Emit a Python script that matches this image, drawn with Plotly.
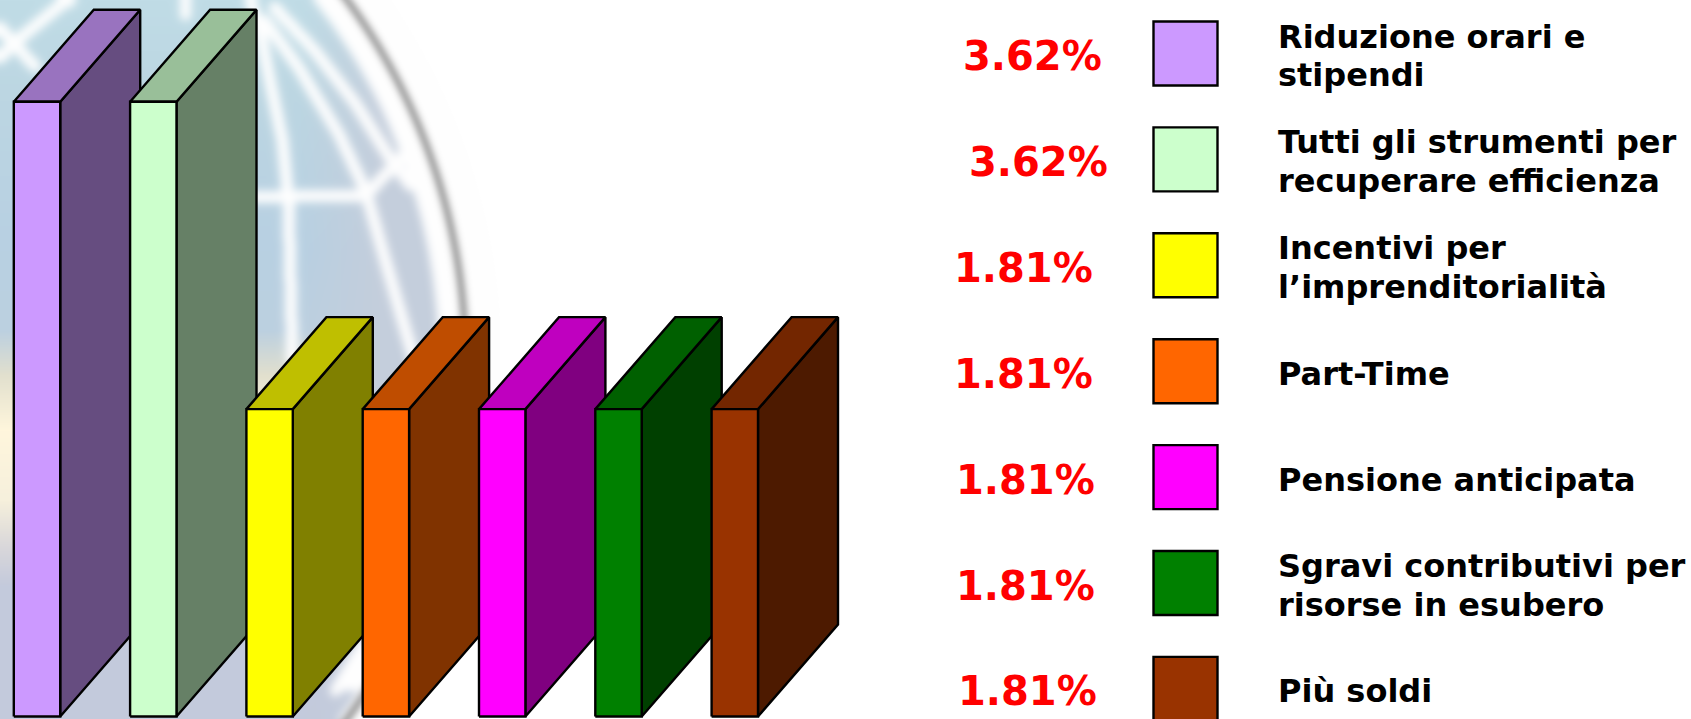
import base64, struct, zlib
import numpy as np
import plotly.graph_objects as go

# ---- data ----
categories = ["Riduzione orari e<br>stipendi", "Tutti gli strumenti per<br>recuperare efficienza",
              "Incentivi per<br>l’imprenditorialità", "Part-Time", "Pensione anticipata",
              "Sgravi contributivi per<br>risorse in esubero", "Più soldi"]
values = [3.62, 3.62, 1.81, 1.81, 1.81, 1.81, 1.81]
value_labels = ["3.62%", "3.62%", "1.81%", "1.81%", "1.81%", "1.81%", "1.81%"]
front_colors = ["#CC99FF", "#CCFFCC", "#FFFF00", "#FF6600", "#FF00FF", "#008000", "#993300"]
side_colors = ["#664D80", "#668066", "#808000", "#803300", "#800080", "#004000", "#4D1A00"]
top_colors = ["#9973BF", "#99BF99", "#BFBF00", "#BF4D00", "#BF00BF", "#006000", "#732600"]
label_left_px = [961, 967, 952, 952, 954, 954, 956]

W, H = 1691, 719


# ---- decorative blurred globe behind the chart ----
def gauss(a, s):
    r = int(3 * s) + 1
    k = np.exp(-0.5 * (np.arange(-r, r + 1) / s) ** 2)
    k /= k.sum()
    pad = np.pad(a, r, mode="edge")
    pad = np.apply_along_axis(lambda m: np.convolve(m, k, "same"), 0, pad)
    pad = np.apply_along_axis(lambda m: np.convolve(m, k, "same"), 1, pad)
    return pad[r:-r, r:-r]


def globe():
    w, h = 500, H
    yy, xx = np.mgrid[0:h, 0:w].astype(float)
    stops = [0, 100, 250, 330, 375, 430, 500, 545, 585, 719]
    cols = np.array([[192, 220, 230], [188, 214, 226], [184, 208, 226], [188, 208, 224], [226, 224, 206],
                     [255, 246, 220], [246, 240, 220], [218, 216, 218], [196, 202, 220], [195, 202, 220]], float)
    base = np.stack([np.interp(yy, stops, cols[:, c]) for c in range(3)], -1)
    grey = np.array([196, 206, 220.0])
    t = np.clip((xx - 300) / 80, 0, 1)[..., None]
    t = t * np.clip((yy + 100) / 200, 0, 1)[..., None]
    base = base * (1 - t) + grey * t
    rad = np.hypot(xx + 140, yy - 359)
    inside = ((rad < 578) | ((yy > 690) & (rad < 598))).astype(float)
    lines = [
        [(292, 360), (288, 200), (282, 140), (270, 83), (260, 33), (250, 0)],
        [(264, 20), (298, 67), (338, 133), (365, 190), (382, 250), (406, 333), (420, 380)],
        [(274, 7), (314, 50), (355, 103), (389, 157), (410, 185)],
        [(365, 195), (389, 170), (410, 148)],
        [(225, 197), (365, 195)],
        [(0, 27), (13, 43), (35, 66)],
        [(0, 57), (13, 43), (62, 3), (70, 0)],
        [(185, 0), (185, 14)],
        [(365, 640), (335, 690)],
    ]
    mask = np.zeros((h, w))
    for pl in lines:
        for (x0, y0), (x1, y1) in zip(pl[:-1], pl[1:]):
            dx, dy = x1 - x0, y1 - y0
            u = np.clip(((xx - x0) * dx + (yy - y0) * dy) / (dx * dx + dy * dy), 0, 1)
            d = np.hypot(xx - x0 - u * dx, yy - y0 - u * dy)
            mask = np.maximum(mask, (d < 6).astype(float))
    a = gauss(inside * (1 - mask), 4.5)[..., None]
    img = base * a + 255 * (1 - a)
    ring = np.exp(-0.5 * ((rad - 605) / 4.2) ** 2)[..., None] * 0.55
    img = img * (1 - ring) + np.array([120.0, 120, 120]) * ring
    return np.clip(img, 0, 255).astype(np.uint8)


def png_uri(arr):
    h, w = arr.shape[:2]
    raw = b"".join(b"\0" + arr[i].tobytes() for i in range(h))
    def chunk(t, d):
        return struct.pack(">I", len(d)) + t + d + struct.pack(">I", zlib.crc32(t + d) & 0xffffffff)
    data = b"\x89PNG\r\n\x1a\n" + chunk(b"IHDR", struct.pack(">IIBBBBB", w, h, 8, 2, 0, 0, 0)) + \
        chunk(b"IDAT", zlib.compress(raw, 9)) + chunk(b"IEND", b"")
    return "data:image/png;base64," + base64.b64encode(data).decode()


# ---- scales: pixels per category step / per percentage point ----
STEP_PX, UNIT_PX, BASE_PX, LEFT_PX = 116.3, 169.8, 716.5, 13.8
bar_w = 46.4 / STEP_PX
depth_x, depth_y = 80.0 / STEP_PX, 92.0 / UNIT_PX

fig = go.Figure()
black = dict(color="black", width=2.4)


def poly(xs, ys, color):
    fig.add_trace(go.Scatter(x=xs, y=ys, mode="lines", fill="toself", fillcolor=color, line=black,
                             hoverinfo="skip", showlegend=False))


for i, v in enumerate(values):
    x0, x1 = i, i + bar_w
    poly([x1, x1, x1 + depth_x, x1 + depth_x, x1], [0, v, v + depth_y, depth_y, 0], side_colors[i])
    poly([x0, x0 + depth_x, x1 + depth_x, x1, x0], [v, v + depth_y, v + depth_y, v, v], top_colors[i])
    poly([x0, x1, x1, x0, x0], [0, 0, v, v, 0], front_colors[i])

annotations, shapes = [], []
ROW0, ROW_STEP, LINE_PX = 53.5, 105.9, 39.0
for i, cat in enumerate(categories):
    yc = ROW0 + ROW_STEP * i
    shapes.append(dict(type="rect", xref="paper", yref="paper", x0=1153.5 / W, x1=1217.5 / W,
                       y0=1 - (yc + 32) / H, y1=1 - (yc - 32) / H, fillcolor=front_colors[i],
                       line=dict(color="black", width=2.4)))
    parts = cat.split("<br>")
    for j, part in enumerate(parts):
        yl = yc + 2.5 + (j - (len(parts) - 1) / 2) * LINE_PX
        annotations.append(dict(xref="paper", yref="paper", x=1276 / W, y=1 - yl / H, xanchor="left",
                                yanchor="middle", align="left", text=f"<b>{part}</b>", showarrow=False,
                                font=dict(family="DejaVu Sans", size=32, color="black")))
    annotations.append(dict(xref="paper", yref="paper", x=label_left_px[i] / W, y=1 - (yc + 2.5) / H,
                            xanchor="left", yanchor="middle", text=f"<b>{value_labels[i]}</b>", showarrow=False,
                            font=dict(family="DejaVu Sans", size=40, color="#FF0000")))

fig.update_layout(
    width=W, height=H, margin=dict(l=0, r=0, t=0, b=0), paper_bgcolor="white", plot_bgcolor="rgba(0,0,0,0)",
    showlegend=False, annotations=annotations, shapes=shapes,
    images=[dict(source=png_uri(globe()), xref="paper", yref="paper", x=0, y=1, sizex=500 / W, sizey=1,
                 sizing="stretch", xanchor="left", yanchor="top", layer="below")],
    xaxis=dict(visible=False, range=[-LEFT_PX / STEP_PX, (W - LEFT_PX) / STEP_PX], domain=[0, 1]),
    yaxis=dict(visible=False, range=[-(H - BASE_PX) / UNIT_PX, BASE_PX / UNIT_PX], domain=[0, 1]),
)
fig.write_html("out.html", config=dict(displayModeBar=False),
               post_script="document.body.style.margin='0';document.body.style.overflow='hidden';")
